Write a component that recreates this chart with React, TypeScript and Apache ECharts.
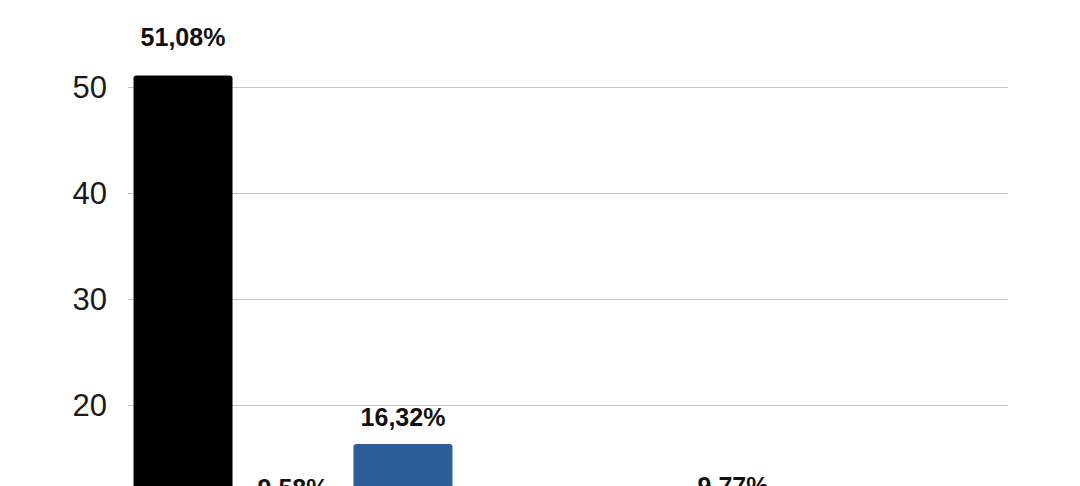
import React, { useEffect, useRef } from 'react';
import * as echarts from 'echarts';

const categories = ['Partido A', 'Partido B', 'Partido C', 'Partido D', 'Partido E', 'Partido F', 'Partido G', 'Outros'];
const values = [51.08, 9.58, 16.32, 5.12, 4.03, 9.77, 2.45, 1.65];
const barColors = ['#000000', '#C8102E', '#2D5E99', '#F2A900', '#3A9D3A', '#E36C0A', '#7F3F98', '#8C8C8C'];
const labelGaps = [26, 15, 15, 15, 15, 15, 15, 15];

const fmt = (v: number) => v.toFixed(2).replace('.', ',') + '%';

export default function App() {
  const chartRef = useRef<HTMLDivElement>(null);

  useEffect(() => {
    if (!chartRef.current) return;
    const chart = echarts.init(chartRef.current, undefined, { renderer: 'svg' });

    chart.setOption({
      animation: false,
      grid: { left: 128, right: 72, top: 81, bottom: 83 },
      xAxis: {
        type: 'category',
        data: categories,
        axisLine: { show: false },
        axisTick: { show: false },
        axisLabel: { color: '#222', fontSize: 20, fontFamily: 'Liberation Sans, Arial, sans-serif' }
      },
      yAxis: {
        type: 'value',
        min: 0,
        max: 60,
        interval: 10,
        axisLine: { show: false },
        axisTick: { show: false },
        axisLabel: {
          color: '#1a1a1a',
          fontSize: 31,
          margin: 21,
          showMaxLabel: false,
          fontFamily: 'Liberation Sans, Arial, sans-serif'
        },
        splitLine: { lineStyle: { color: '#c6c6c6', width: 1 } }
      },
      series: [
        {
          type: 'bar',
          barWidth: '90%',
          data: values.map((v, i) => ({
            value: v,
            itemStyle: { color: barColors[i], borderRadius: [3, 3, 0, 0] },
            label: { distance: labelGaps[i] }
          })),
          label: {
            show: true,
            position: 'top',
            formatter: (p: any) => fmt(p.value),
            color: '#111',
            fontSize: 25,
            fontWeight: 'bold',
            fontFamily: 'Liberation Sans, Arial, sans-serif'
          }
        }
      ]
    });

    return () => {
      chart.dispose();
    };
  }, []);

  return (
    <div style={{ position: 'fixed', left: 0, top: 0, width: 1080, height: 486, overflow: 'hidden', background: '#fff' }}>
      <div ref={chartRef} style={{ position: 'absolute', left: 0, top: -100, width: 1080, height: 800 }} />
    </div>
  );
}
